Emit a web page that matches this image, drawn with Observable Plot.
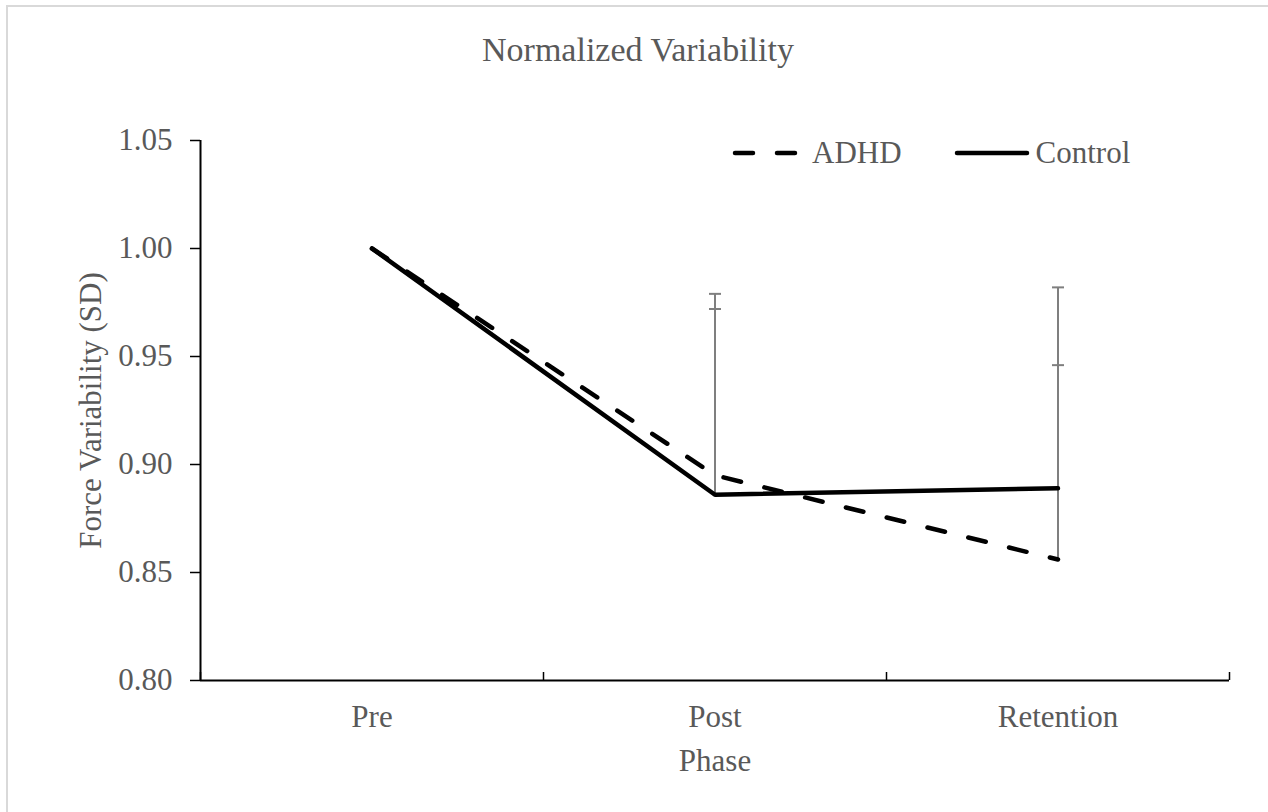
<!DOCTYPE html>
<html>
<head>
<meta charset="utf-8">
<script src="https://cdn.jsdelivr.net/npm/d3@7"></script>
<script src="https://cdn.jsdelivr.net/npm/@observablehq/plot@0.6"></script>
<style>
  html, body { margin: 0; padding: 0; background: #fff; overflow: hidden; }
  body { width: 1268px; height: 812px; position: relative; font-family: "Liberation Serif", "Times New Roman", serif; color: #595959; }
  #frame { position: absolute; left: 6px; top: 5px; width: 1300px; height: 840px; border-left: 2px solid #d9d9d9; border-top: 2px solid #d9d9d9; }
  #title { position: absolute; left: 0; top: 30px; width: 1276px; text-align: center; font-size: 34px; line-height: 40px; }
  #chart { position: absolute; left: 0; top: 90px; }
  #legend { position: absolute; top: 135px; left: 732px; display: flex; align-items: center; font-size: 31px; line-height: 36px; }
  #legend svg { display: block; }
</style>
</head>
<body>
<div id="frame"></div>
<div id="title">Normalized Variability</div>
<div id="chart"></div>
<div id="legend"></div>
<script>
// Phases on the x axis, and the normalized force variability for each group
const categories = ["Pre", "Post", "Retention"];
const adhdMean = [1.000, 0.895, 0.856];
const controlMean = [1.000, 0.886, 0.889];
// Upper error bars (SD); none at Pre, where values are normalized to 1
const adhdSD = [null, 0.077, 0.090];
const controlSD = [null, 0.093, 0.093];
const yTicks = [0.80, 0.85, 0.90, 0.95, 1.00, 1.05];
// Category boundaries for the x-axis tick marks
const phaseEdges = [-0.5, 0.5, 1.5, 2.5];

const groups = [
  {name: "ADHD", mean: adhdMean, sd: adhdSD, dash: "18,24", swatch: 70, gapBefore: 10, gapAfter: 52},
  {name: "Control", mean: controlMean, sd: controlSD, dash: null, swatch: 76, gapBefore: 6, gapAfter: 0}
];

const rows = groups.flatMap(g => categories.map((c, i) => ({
  group: g.name, i, mean: g.mean[i], sd: g.sd[i],
  upper: g.sd[i] == null ? null : g.mean[i] + g.sd[i]
})));
const bars = rows.filter(d => d.sd != null);

// Horizontal cap drawn as a dot symbol
const capSymbol = {
  draw(context, size) {
    const r = Math.sqrt(size / Math.PI);
    context.moveTo(-r, 0);
    context.lineTo(r, 0);
  }
};

const font = "'Liberation Serif', 'Times New Roman', serif";

const chart = Plot.plot({
  width: 1268,
  height: 722,
  marginLeft: 200,
  marginRight: 39,
  marginTop: 50,
  marginBottom: 132,
  style: {fontFamily: font, background: "transparent", overflow: "visible"},
  x: {type: "linear", domain: [-0.5, 2.5]},
  y: {domain: [0.80, 1.05]},
  marks: [
    // y axis: tick marks and labels
    Plot.axisY({ticks: yTicks, tickSize: 10, tickFormat: () => "", color: "black", strokeWidth: 1.5, label: null}),
    Plot.axisY({ticks: yTicks, tickSize: 0, tickPadding: 28, tickFormat: d3.format(".2f"),
      fontSize: 31, color: "#595959", label: "Force Variability (SD)", labelAnchor: "center",
      labelOffset: 122, labelArrow: "none"}),
    // x axis: boundary tick marks and phase labels
    Plot.axisX({ticks: phaseEdges, tickSize: -8, tickFormat: () => "", color: "black", strokeWidth: 1.5, label: null}),
    Plot.axisX({ticks: [0, 1, 2], tickSize: 0, tickPadding: 24, tickFormat: i => categories[i],
      fontSize: 31, color: "#595959", label: "Phase", labelAnchor: "center", labelOffset: 90, labelArrow: "none"}),
    Plot.ruleX([-0.5], {stroke: "black", strokeWidth: 2}),
    Plot.ruleY([0.80], {stroke: "black", strokeWidth: 2}),
    // error bars
    Plot.ruleX(bars, {x: "i", y1: "mean", y2: "upper", stroke: "#7f7f7f", strokeWidth: 2}),
    Plot.dot(bars, {x: "i", y: "upper", symbol: capSymbol, r: 6, stroke: "#7f7f7f", fill: "none", strokeWidth: 2}),
    // group lines
    ...groups.map(g => Plot.line(rows.filter(d => d.group === g.name), {
      x: "i", y: "mean", stroke: "black", strokeWidth: 4.5,
      strokeDasharray: g.dash, strokeLinecap: "round", strokeLinejoin: "round"
    }))
  ]
});
document.getElementById("chart").appendChild(chart);

// Legend
const legend = document.getElementById("legend");
groups.forEach(g => {
  const w = g.swatch;
  const svg = d3.create("svg").attr("width", w).attr("height", 36);
  svg.append("line")
    .attr("x1", 3).attr("x2", w - 3).attr("y1", 18).attr("y2", 18)
    .attr("stroke", "black").attr("stroke-width", 4.5).attr("stroke-linecap", "round")
    .attr("stroke-dasharray", g.dash);
  const item = document.createElement("div");
  item.style.display = "flex";
  item.style.alignItems = "center";
  item.style.marginRight = g.gapAfter + "px";
  item.appendChild(svg.node());
  const label = document.createElement("span");
  label.textContent = g.name;
  label.style.marginLeft = g.gapBefore + "px";
  item.appendChild(label);
  legend.appendChild(item);
});
</script>
</body>
</html>
